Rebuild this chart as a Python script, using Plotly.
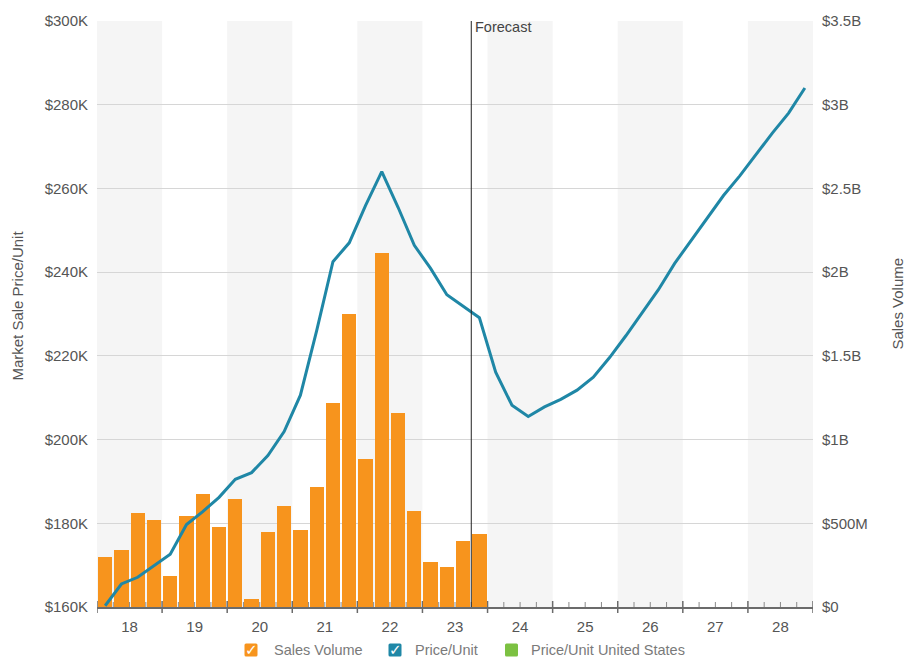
import plotly.graph_objects as go

# ---- data -------------------------------------------------------------
years = list(range(2018, 2029))
year_labels = [str(y)[2:] for y in years]
quarters = [f"{y} Q{q}" for y in years for q in range(1, 5)]

# Quarterly sales volume, USD billions (history only)
sales_volume_b = [
    0.300, 0.343, 0.560, 0.520,
    0.185, 0.545, 0.674, 0.476,
    0.648, 0.049, 0.450, 0.603,
    0.460, 0.718, 1.219, 1.753,
    0.886, 2.116, 1.160, 0.575,
    0.266, 0.236, 0.394, 0.437,
]

# Quarterly market sale price per unit, USD thousands (history + forecast)
price_k = [
    160.3, 165.5, 167.1, 169.8,
    172.6, 179.7, 182.8, 186.2,
    190.5, 192.1, 196.2, 201.9,
    210.6, 226.0, 242.5, 247.0,
    255.9, 264.0, 255.5, 246.4,
    240.9, 234.6, 231.9, 229.1,
    216.1, 208.2, 205.5, 207.8,
    209.6, 211.8, 214.9, 219.6,
    224.8, 230.3, 235.8, 242.1,
    247.6, 253.1, 258.3, 263.0,
    268.1, 273.2, 278.0, 284.0,
]

forecast_start = "2023 Q4"

price_ticks_k = [160, 180, 200, 220, 240, 260, 280, 300]
price_tick_text = ["$160K", "$180K", "$200K", "$220K", "$240K", "$260K", "$280K", "$300K"]
volume_ticks_b = [0, 0.5, 1, 1.5, 2, 2.5, 3, 3.5]
volume_tick_text = ["$0", "$500M", "$1B", "$1.5B", "$2B", "$2.5B", "$3B", "$3.5B"]

legend_items = ["Sales Volume", "Price/Unit", "Price/Unit United States"]

# ---- styling ----------------------------------------------------------
ORANGE = "#f7941d"
TEAL = "#1f87a6"
GREEN = "#7cc142"
FONT = "Liberation Sans, Arial, sans-serif"
TICK_COLOR = "#555555"


def qpos(label):
    """Centre of a quarter on a continuous year axis."""
    y, q = label.split(" Q")
    return int(y) + (int(q) - 0.5) / 4


x_quarters = [qpos(q) for q in quarters]
x_bars = x_quarters[: len(sales_volume_b)]

fig = go.Figure()

# bars on the primary (right-hand) axis so the price line overlays them
fig.add_trace(go.Bar(
    x=x_bars,
    y=[v * 1e9 for v in sales_volume_b],
    yaxis="y",
    name="Sales Volume",
    marker=dict(color=ORANGE, line=dict(width=0)),
    width=0.22,
    showlegend=False,
))

fig.add_trace(go.Scatter(
    x=x_quarters,
    y=[p * 1000 for p in price_k],
    yaxis="y2",
    mode="lines",
    name="Price/Unit",
    line=dict(color=TEAL, width=3),
    showlegend=False,
))

shapes = []
# alternating year bands
for y in years:
    if (y - years[0]) % 2 == 0:
        shapes.append(dict(type="rect", xref="x", yref="paper",
                           x0=y, x1=y + 1, y0=0, y1=1,
                           fillcolor="#f5f5f5", line=dict(width=0), layer="below"))

# year ticks crossing the axis line, quarter ticks above it
for y in years + [years[-1] + 1]:
    shapes.append(dict(type="line", xref="x", yref="paper",
                       x0=y, x1=y, ysizemode="pixel", yanchor=0, y0=-6, y1=6,
                       line=dict(color="#6b6b6b", width=1.5), layer="below"))
for y in years:
    for k in (1, 2, 3):
        shapes.append(dict(type="line", xref="x", yref="paper",
                           x0=y + k / 4, x1=y + k / 4, ysizemode="pixel",
                           yanchor=0, y0=0, y1=5,
                           line=dict(color="#8a8a8a", width=1), layer="below"))

# forecast divider
fx = qpos(forecast_start) - 0.125
shapes.append(dict(type="line", xref="x", yref="paper", x0=fx, x1=fx, y0=0, y1=1,
                   line=dict(color="#222222", width=1)))

annotations = [
    dict(text="Forecast", xref="x", yref="paper", x=fx, y=1, xanchor="left",
         yanchor="top", xshift=2, yshift=4, showarrow=False,
         font=dict(family=FONT, size=14.5, color="#444444")),
    dict(text="Market Sale Price/Unit", xref="paper", yref="paper",
         x=(18 - 97) / 716, y=(607 - 302) / 593, textangle=-90,
         xanchor="center", yanchor="middle", showarrow=False,
         font=dict(family=FONT, size=15, color="#555555")),
    dict(text="Sales Volume", xref="paper", yref="paper",
         x=(898 - 97) / 716, y=(607 - 300) / 593, textangle=-90,
         xanchor="center", yanchor="middle", showarrow=False,
         font=dict(family=FONT, size=15, color="#555555")),
]

# custom checkbox legend below the plot
legend_colors = [ORANGE, TEAL, GREEN]
legend_checked = [True, True, False]
box_centers_px = [251, 395, 511.5]
text_starts_px = [272, 413, 529]
legend_y_px = 650.5
for name, col, chk, bx, tx in zip(legend_items, legend_colors, legend_checked,
                                  box_centers_px, text_starts_px):
    xp = (bx - 97) / 716
    yp = (607 - legend_y_px) / 593
    shapes.append(dict(type="path", xref="paper", yref="paper",
                       xsizemode="pixel", ysizemode="pixel",
                       xanchor=xp, yanchor=yp,
                       path="M-5,-6.5 L5,-6.5 Q6.5,-6.5 6.5,-5 L6.5,5 Q6.5,6.5 5,6.5 "
                            "L-5,6.5 Q-6.5,6.5 -6.5,5 L-6.5,-5 Q-6.5,-6.5 -5,-6.5 Z",
                       fillcolor=col, line=dict(width=0)))
    if chk:
        annotations.append(dict(text="<b>✓</b>", xref="paper", yref="paper", x=xp, y=yp,
                                xanchor="center", yanchor="middle", showarrow=False,
                                font=dict(family="DejaVu Sans", size=15, color="white")))
    annotations.append(dict(text=name, xref="paper", yref="paper",
                            x=(tx - 97) / 716, y=yp, xanchor="left", yanchor="middle",
                            showarrow=False,
                            font=dict(family=FONT, size=14.5, color="#7a7a7a")))

fig.update_layout(
    width=908, height=662,
    margin=dict(l=97, r=95, t=14, b=55),
    paper_bgcolor="white", plot_bgcolor="white",
    showlegend=False,
    bargap=0,
    font=dict(family=FONT, size=15, color=TICK_COLOR),
    xaxis=dict(
        range=[years[0], years[-1] + 1],
        tickmode="array",
        tickvals=[y + 0.5 for y in years],
        ticktext=year_labels,
        ticks="",
        showgrid=False, zeroline=False,
        showline=True, linecolor="#6b6b6b", linewidth=1.5,
        ticklabelstandoff=5,
        tickfont=dict(family=FONT, size=15, color=TICK_COLOR),
        fixedrange=True,
    ),
    yaxis=dict(
        range=[0, 3.5e9],
        side="right",
        tickmode="array",
        tickvals=[t * 1e9 for t in volume_ticks_b],
        ticktext=volume_tick_text,
        ticks="",
        showgrid=True, gridcolor="#d6d6d6", gridwidth=1,
        zeroline=False, showline=False,
        ticklabelstandoff=8,
        tickfont=dict(family=FONT, size=15, color=TICK_COLOR),
    ),
    yaxis2=dict(
        range=[160000, 300000],
        overlaying="y", side="left",
        tickmode="array",
        tickvals=[t * 1000 for t in price_ticks_k],
        ticktext=price_tick_text,
        ticks="",
        showgrid=False, zeroline=False, showline=False,
        ticklabelstandoff=8,
        tickfont=dict(family=FONT, size=15, color=TICK_COLOR),
    ),
    shapes=shapes,
    annotations=annotations,
)

fig.write_html("out.html")
